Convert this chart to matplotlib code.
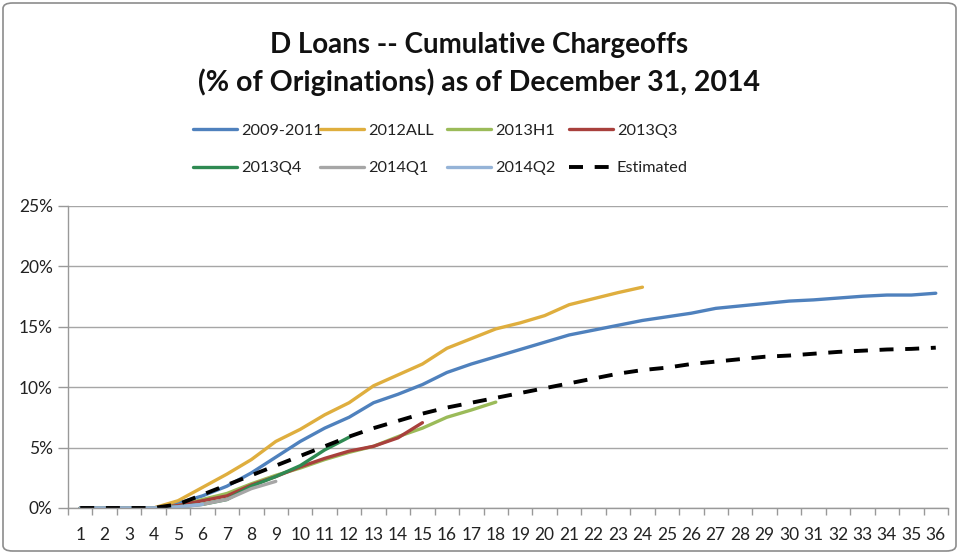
import matplotlib
matplotlib.use("Agg")
import matplotlib.pyplot as plt
from matplotlib.patches import FancyBboxPatch
from matplotlib.ticker import FixedLocator, PercentFormatter

plt.rcParams['font.family'] = ['Lato', 'DejaVu Sans']

months = list(range(1, 37))

s_2009_2011 = [0, 0, 0, 0, 0.4, 1.0, 1.8, 2.9, 4.2, 5.5, 6.6, 7.5, 8.7, 9.4, 10.2, 11.2, 11.9,
               12.5, 13.1, 13.7, 14.3, 14.7, 15.1, 15.5, 15.8, 16.1, 16.5, 16.7, 16.9, 17.1,
               17.2, 17.35, 17.5, 17.6, 17.6, 17.75]
s_2012all = [0, 0, 0, 0, 0.6, 1.7, 2.8, 4.0, 5.5, 6.5, 7.7, 8.7, 10.1, 11.0, 11.9, 13.2, 14.0,
             14.8, 15.3, 15.9, 16.8, 17.3, 17.8, 18.25]
s_2013h1 = [0, 0, 0, 0, 0.2, 0.7, 1.2, 2.0, 2.7, 3.3, 4.0, 4.6, 5.1, 5.9, 6.6, 7.5, 8.1, 8.75]
s_2013q3 = [0, 0, 0, 0, 0.2, 0.6, 1.0, 1.9, 2.6, 3.4, 4.1, 4.7, 5.1, 5.8, 7.05]
s_2013q4 = [0, 0, 0, 0, 0.1, 0.3, 0.7, 1.8, 2.6, 3.5, 4.8, 5.85]
s_2014q1 = [0, 0, 0, 0, 0.05, 0.3, 0.7, 1.6, 2.2]
s_2014q2 = [0, 0, 0, 0, 0.1, 0.3]
s_estimated = [0, 0, 0, 0, 0.3, 1.1, 1.9, 2.7, 3.5, 4.3, 5.1, 5.9, 6.6, 7.2, 7.8, 8.3, 8.7,
               9.1, 9.5, 9.9, 10.3, 10.7, 11.1, 11.4, 11.6, 11.9, 12.1, 12.3, 12.5, 12.6,
               12.75, 12.9, 13.0, 13.1, 13.15, 13.25]

series = [
    ("2009-2011", s_2009_2011, "#4F81BD"),
    ("2012ALL", s_2012all, "#DFAE3E"),
    ("2013H1", s_2013h1, "#9BBB59"),
    ("2013Q3", s_2013q3, "#A8403C"),
    ("2013Q4", s_2013q4, "#2F8A52"),
    ("2014Q1", s_2014q1, "#A6A6A6"),
    ("2014Q2", s_2014q2, "#95B3D7"),
]

W, H = 959, 554
fig = plt.figure(figsize=(W/100, H/100), dpi=100)
ax = fig.add_axes([68/W, 1-508/H, (948-68)/W, (508-205.5)/H])

handles = []
for name, vals, col in series:
    h, = ax.plot(months[:len(vals)], vals, color=col, lw=2.4, solid_capstyle='round', label=name)
    handles.append(h)
he, = ax.plot(months, s_estimated, color='black', lw=2.8, dashes=(3.6, 3.0), label="Estimated")
handles.append(he)

ax.set_xlim(0.5, 36.5)
ax.set_ylim(0, 25)
ax.yaxis.set_major_locator(FixedLocator([0, 5, 10, 15, 20, 25]))
ax.yaxis.set_major_formatter(PercentFormatter(100, decimals=0))
ax.set_xticks(months)
ax.set_xticklabels([str(m) for m in months])
ax.set_xticks([m + 0.5 for m in range(0, 36)] + [36.5], minor=True)
ax.tick_params(axis='x', which='major', length=0, labelsize=12.5, pad=14, colors='#222222')
ax.tick_params(axis='x', which='minor', length=5, color='#999999', width=1, direction='out')
ax.tick_params(axis='y', length=7, color='#999999', width=1, labelsize=12.5, pad=4, labelcolor='#222222')
ax.grid(axis='y', color='#A6A6A6', lw=1)
ax.set_axisbelow(True)
for sp in ['top', 'right']:
    ax.spines[sp].set_visible(False)
for sp in ['left', 'bottom']:
    ax.spines[sp].set_color('#999999')
    ax.spines[sp].set_linewidth(1)

fig.text(0.5, 1-45/H, "D Loans -- Cumulative Chargeoffs", ha='center', va='center',
         fontsize=20, fontweight='bold', color='#111111')
fig.text(0.5, 1-82/H, "(% of Originations) as of December 31, 2014", ha='center', va='center',
         fontsize=20.5, fontweight='bold', color='#111111')

# legend: 4 columns, row-wise order, each column its own legend for exact placement
col_x = [193, 320, 447, 569]
for c in range(4):
    hs = [handles[c], handles[c + 4]]
    leg = fig.legend(handles=hs, labels=[h.get_label() for h in hs], ncol=1,
                     loc='center left', bbox_to_anchor=(col_x[c]/W, 1-149.5/H), frameon=False,
                     fontsize=11.7, handlelength=2.7, handletextpad=0.25, labelspacing=1.4,
                     borderpad=0, borderaxespad=0)
    for t in leg.get_texts():
        t.set_color('#222222')

border = FancyBboxPatch((3/W, 3/H), 1-6/W, 1-6/H, boxstyle="round,pad=0,rounding_size=0.01",
                        transform=fig.transFigure, fill=False, edgecolor='#8C8C8C', lw=1.2)
fig.patches.append(border)

fig.savefig("out.png", dpi=100)
